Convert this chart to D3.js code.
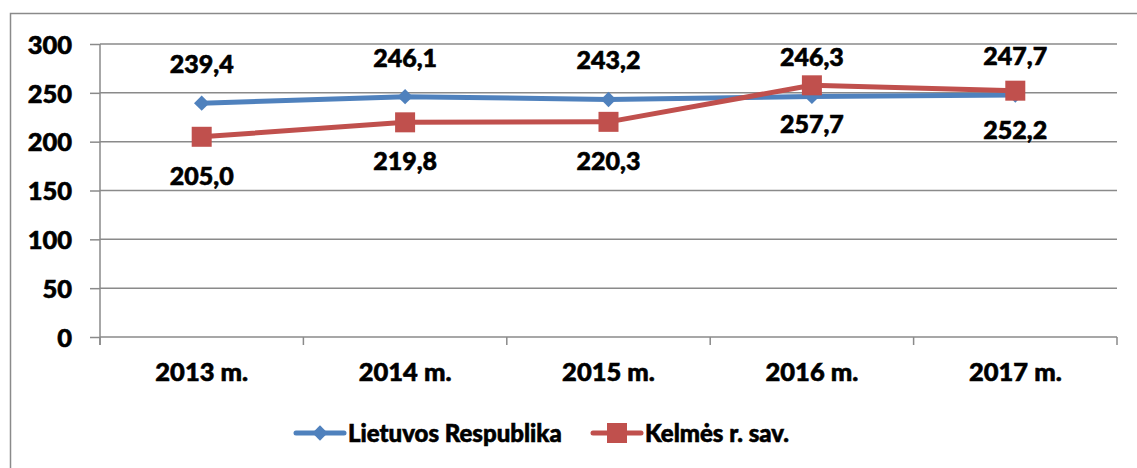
<!DOCTYPE html>
<html>
<head>
<meta charset="utf-8">
<script src="https://cdn.jsdelivr.net/npm/d3@7"></script>
<style>
  body { margin: 0; background: #fff; }
  text { font-family: Lato, "Open Sans", sans-serif; font-weight: 900; fill: #000; stroke: #000; stroke-width: 0.6px; }
</style>
</head>
<body>
<svg id="chart" width="1137" height="468"></svg>
<script>
// data
var years = ["2013 m.", "2014 m.", "2015 m.", "2016 m.", "2017 m."];
var lietuva = [239.4, 246.1, 243.2, 246.3, 247.7];
var kelme = [205.0, 219.8, 220.3, 257.7, 252.2];
var yTicks = [0, 50, 100, 150, 200, 250, 300];
var seriesNames = ["Lietuvos Respublika", "Kelmės r. sav."];

var blue = "#4F81BD", red = "#C0504D", grid = "#8a8a8a";

var plot = {left: 100, right: 1117, top: 44, bottom: 337};

var x = d3.scaleBand()
  .domain(years)
  .range([plot.left, plot.right]);

var y = d3.scaleLinear()
  .domain([0, 300])
  .range([plot.bottom, plot.top]);

var fmt = d => d.toFixed(1).replace(".", ",");

var svg = d3.select("#chart");

// outer chart border (right/bottom edges are off the picture)
svg.append("rect")
    .attr("x", 10.5).attr("y", 13.5)
    .attr("width", 1140).attr("height", 470)
    .attr("fill", "none")
    .attr("stroke", grid)
    .attr("stroke-width", 1.5);

// horizontal gridlines
svg.append("g")
    .selectAll("line")
    .data(yTicks.filter(d => d > 0))
  .enter().append("line")
    .attr("x1", plot.left).attr("x2", plot.right)
    .attr("y1", d => y(d)).attr("y2", d => y(d))
    .attr("stroke", grid)
    .attr("stroke-width", 1.5);

// y axis
var yAxis = d3.axisLeft(y)
  .tickValues(yTicks)
  .tickSize(10)
  .tickPadding(18)
  .tickFormat(d => d);

var gy = svg.append("g")
    .attr("transform", `translate(${plot.left},0)`)
    .call(yAxis);
gy.select(".domain").remove();
gy.attr("font-family", null).attr("font-size", null);
gy.selectAll(".tick line").attr("stroke", grid).attr("stroke-width", 1.5);
gy.selectAll(".tick text")
    .attr("font-size", 25.5)
    .attr("dy", "0.36em");
gy.append("line")
    .attr("x1", 0).attr("x2", 0)
    .attr("y1", plot.top).attr("y2", plot.bottom + 8)
    .attr("stroke", grid).attr("stroke-width", 1.5);

// x axis: tick marks between categories
var gx = svg.append("g")
    .attr("transform", `translate(0,${plot.bottom})`)
    .call(d3.axisBottom(x).tickSize(0).tickPadding(26));
gx.select(".domain").remove();
gx.attr("font-family", null).attr("font-size", null);
gx.selectAll(".tick text")
    .attr("font-size", 25.5);
gx.append("line")
    .attr("x1", plot.left).attr("x2", plot.right)
    .attr("stroke", grid).attr("stroke-width", 1.5);
gx.selectAll(".sep")
    .data(years.concat(["end"]))
  .enter().append("line")
    .attr("class", "sep")
    .attr("x1", (d, i) => i < years.length ? x(d) : plot.right)
    .attr("x2", (d, i) => i < years.length ? x(d) : plot.right)
    .attr("y1", 0).attr("y2", 8)
    .attr("stroke", grid).attr("stroke-width", 1.5);

var cx = d => x(d) + x.bandwidth() / 2;

var line = d3.line()
  .x((d, i) => cx(years[i]))
  .y(d => y(d));

var diamond = d3.symbol().type(d3.symbolDiamond2).size(150);

// Lietuvos Respublika
svg.append("path")
    .datum(lietuva)
    .attr("d", line)
    .attr("fill", "none")
    .attr("stroke", blue)
    .attr("stroke-width", 5)
    .attr("stroke-linejoin", "round");

svg.append("g")
    .selectAll("path")
    .data(lietuva)
  .enter().append("path")
    .attr("d", diamond)
    .attr("transform", (d, i) => `translate(${cx(years[i])},${y(d)})`)
    .attr("fill", blue);

// Kelmės r. sav.
svg.append("path")
    .datum(kelme)
    .attr("d", line)
    .attr("fill", "none")
    .attr("stroke", red)
    .attr("stroke-width", 5)
    .attr("stroke-linejoin", "round");

svg.append("g")
    .selectAll("rect")
    .data(kelme)
  .enter().append("rect")
    .attr("x", (d, i) => cx(years[i]) - 10)
    .attr("y", d => y(d) - 10)
    .attr("width", 20).attr("height", 20)
    .attr("fill", red);

// value labels
svg.append("g")
    .selectAll("text")
    .data(lietuva)
  .enter().append("text")
    .attr("x", (d, i) => cx(years[i]))
    .attr("y", d => y(d) - 30)
    .attr("text-anchor", "middle")
    .attr("font-size", 25)
    .text(fmt);

svg.append("g")
    .selectAll("text")
    .data(kelme)
  .enter().append("text")
    .attr("x", (d, i) => cx(years[i]))
    .attr("y", d => y(d) + 48)
    .attr("text-anchor", "middle")
    .attr("font-size", 25)
    .text(fmt);

// legend
var legend = svg.append("g").attr("transform", "translate(0,433)");
var legendX = [296, 593];

legend.selectAll("line")
    .data(seriesNames)
  .enter().append("line")
    .attr("x1", (d, i) => legendX[i]).attr("x2", (d, i) => legendX[i] + 48)
    .attr("stroke", (d, i) => i ? red : blue)
    .attr("stroke-width", 5)
    .attr("stroke-linecap", "round");

legend.append("path")
    .attr("d", diamond)
    .attr("transform", `translate(${legendX[0] + 24},0)`)
    .attr("fill", blue);

legend.append("rect")
    .attr("x", legendX[1] + 24 - 10).attr("y", -10)
    .attr("width", 20).attr("height", 20)
    .attr("fill", red);

legend.selectAll("text")
    .data(seriesNames)
  .enter().append("text")
    .attr("x", (d, i) => legendX[i] + 52)
    .attr("y", 9)
    .attr("font-size", 24)
    .text(d => d);
</script>
</body>
</html>
